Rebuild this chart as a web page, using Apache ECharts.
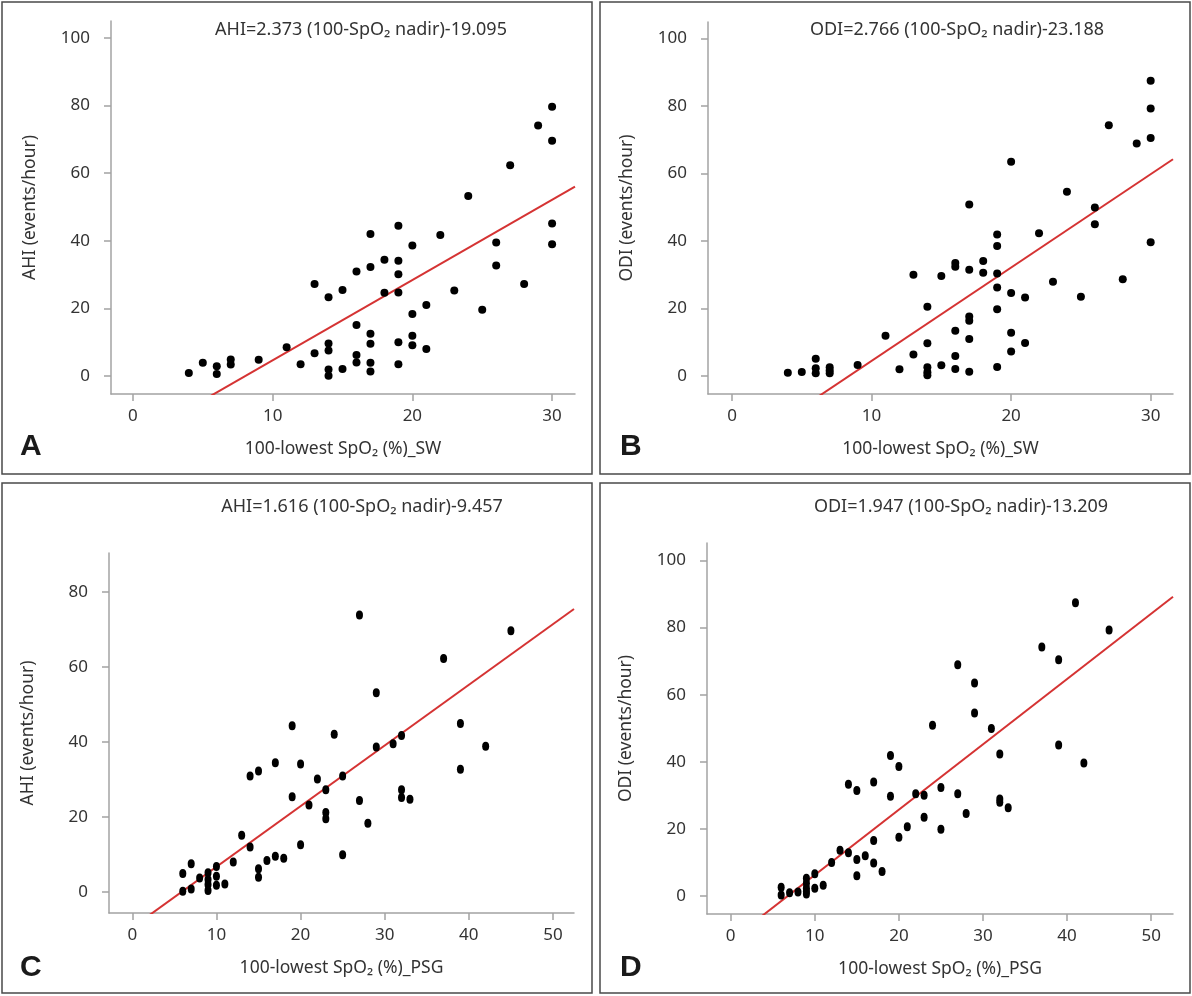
<!DOCTYPE html>
<html><head><meta charset="utf-8">
<script src="https://cdn.jsdelivr.net/npm/echarts@6/dist/echarts.min.js"></script>
<style>html,body{margin:0;padding:0;background:#fff}#c{width:1192px;height:996px}</style>
</head><body><div id="c"></div>
<script>
// ---- data ----
const swAhi = [[4,0.9],[5,3.9],[6,2.9],[6,0.6],[7,4.9],[7,3.4],[9,4.8],[11,8.5],[12,3.5],[13,27.2],[13,6.7],[14,23.3],[14,9.6],[14,7.5],[14,1.9],[14,0.1],[15,25.4],[15,2.1],[16,30.9],[16,15.1],[16,6.2],[16,4.0],[17,42.0],[17,32.2],[17,12.5],[17,9.5],[17,3.9],[17,1.3],[18,34.4],[18,24.6],[19,44.4],[19,34.1],[19,30.1],[19,24.7],[19,10.0],[19,3.5],[20,38.6],[20,18.3],[20,11.9],[20,9.1],[21,21.0],[21,8.0],[22,41.7],[23,25.3],[24,53.2],[25,19.6],[26,39.5],[26,32.7],[27,62.3],[28,27.2],[29,74.1],[30,79.6],[30,69.6],[30,45.1],[30,39.0]];
const swOdi = [[4,1.0],[5,1.2],[6,5.1],[6,2.3],[6,0.8],[7,2.6],[7,1.6],[7,0.8],[9,3.3],[11,11.9],[12,2.0],[13,30.0],[13,6.4],[14,20.5],[14,9.7],[14,2.6],[14,1.1],[14,0.2],[15,29.6],[15,3.2],[16,33.5],[16,32.4],[16,13.4],[16,5.9],[16,2.1],[17,50.8],[17,31.5],[17,17.6],[17,16.4],[17,11.0],[17,1.3],[18,34.1],[18,30.6],[19,41.9],[19,38.5],[19,30.4],[19,26.2],[19,19.8],[19,2.7],[20,63.5],[20,24.6],[20,12.8],[20,7.3],[21,23.3],[21,9.8],[22,42.3],[23,27.9],[24,54.6],[25,23.5],[26,49.9],[26,45.0],[27,74.3],[28,28.7],[29,68.9],[30,87.5],[30,79.3],[30,70.5],[30,39.6]];
const psgAhi = [[6,4.9],[6,0.2],[7,7.5],[7,0.8],[8,3.7],[9,5.1],[9,3.3],[9,2.0],[9,0.4],[10,6.8],[10,4.2],[10,1.8],[11,2.1],[12,8.0],[13,15.1],[14,12.0],[14,30.9],[15,32.2],[15,6.2],[15,3.9],[16,8.4],[17,34.4],[17,9.5],[18,9.0],[19,44.3],[19,25.4],[20,34.1],[20,12.6],[21,23.2],[22,30.1],[23,27.2],[23,21.2],[23,19.5],[24,42.0],[25,30.9],[25,9.9],[27,73.8],[27,24.4],[28,18.3],[29,53.1],[29,38.6],[31,39.5],[32,41.7],[32,27.2],[32,25.2],[33,24.7],[37,62.2],[39,44.9],[39,32.7],[42,38.8],[45,69.6],[32,91.5]];
const psgOdi = [[6,2.6],[6,0.3],[7,1.0],[8,1.2],[9,5.3],[9,3.8],[9,2.3],[9,1.3],[9,0.6],[10,6.6],[10,2.3],[11,3.2],[12,10.0],[13,13.6],[14,33.3],[14,12.9],[15,31.4],[15,10.9],[15,6.0],[16,12.0],[17,34.0],[17,16.5],[17,9.8],[18,7.3],[19,41.9],[19,29.7],[20,38.6],[20,17.5],[21,20.6],[22,30.5],[23,30.0],[23,23.5],[24,50.9],[25,32.3],[25,19.9],[27,68.9],[27,30.5],[28,24.6],[29,63.5],[29,54.5],[31,49.9],[32,42.3],[32,28.9],[32,27.9],[33,26.3],[37,74.2],[39,70.4],[39,45.0],[41,87.4],[42,39.6],[45,79.3]];
const slopes = [2.373, 2.766, 1.616, 1.947];
const intercepts = [-19.095, -23.188, -9.457, -13.209];
const equationTitles = ['AHI=2.373 (100-SpO₂ nadir)-19.095','ODI=2.766 (100-SpO₂ nadir)-23.188','AHI=1.616 (100-SpO₂ nadir)-9.457','ODI=1.947 (100-SpO₂ nadir)-13.209'];
const yAxisNames = ['AHI (events/hour)','ODI (events/hour)','AHI (events/hour)','ODI (events/hour)'];
const xAxisNames = ['100-lowest SpO₂ (%)_SW','100-lowest SpO₂ (%)_SW','100-lowest SpO₂ (%)_PSG','100-lowest SpO₂ (%)_PSG'];
const panelLetters = ['A','B','C','D'];
const xTicksSW = [0,10,20,30];
const xTicksPSG = [0,10,20,30,40,50];
const yTicks100 = [0,20,40,60,80,100];
const yTicks80 = [0,20,40,60,80];

// ---- layout ----
const FONT = '"Noto Sans", "DejaVu Sans", sans-serif';
const datasets = [swAhi, swOdi, psgAhi, psgOdi];
const xTicks = [xTicksSW, xTicksSW, xTicksPSG, xTicksPSG];
const yTicks = [yTicks100, yTicks100, yTicks80, yTicks100];
const grids = [
  {left:111, top:21, width:464, height:373},
  {left:708, top:22, width:465, height:372},
  {left:109, top:553, width:465, height:360},
  {left:707, top:543, width:466, height:371}
];
const xExt = [[-1.57,31.64],[-1.72,31.6],[-2.77,52.5],[-2.82,52.6]];
const yExt = [[-5.33,105],[-5.33,104.9],[-5.6,90.3],[-5.37,105.2]];
const boxes = [[2,2,590,472],[600,2,590,472],[2,483,590,510],[600,483,590,510]];
const titlePos = [[361,30],[957,30],[362,507],[961,507]];
const letterPos = [[20,447],[620,447],[20,968],[620,968]];
const symSizes = [[8,8],[8,8],[7,9],[7,9]];

const axisLineStyle = {color:'#a3a3a3', width:1.5};
const xAxis = [], yAxis = [], series = [], graphic = [];
for (let i = 0; i < 4; i++) {
  xAxis.push({
    type:'value', gridIndex:i, min:xExt[i][0], max:xExt[i][1],
    splitLine:{show:false},
    axisLine:{show:true, onZero:false, lineStyle:axisLineStyle},
    axisTick:{show:true, length:7, lineStyle:axisLineStyle, customValues:xTicks[i]},
    axisLabel:{color:'#333', fontSize:17, fontFamily:FONT, margin:14, customValues:xTicks[i]},
    name:xAxisNames[i], nameLocation:'middle', nameGap:46,
    nameTextStyle:{color:'#333', fontSize:17.5, fontFamily:FONT}
  });
  yAxis.push({
    type:'value', gridIndex:i, min:yExt[i][0], max:yExt[i][1],
    splitLine:{show:false},
    axisLine:{show:true, onZero:false, lineStyle:axisLineStyle},
    axisTick:{show:true, length:7, lineStyle:axisLineStyle, customValues:yTicks[i]},
    axisLabel:{color:'#333', fontSize:17, fontFamily:FONT, margin:21, customValues:yTicks[i]},
    name:yAxisNames[i], nameLocation:'middle', nameGap:72, nameRotate:90,
    nameTextStyle:{color:'#333', fontSize:17.5, fontFamily:FONT}
  });
  series.push({
    type:'scatter', xAxisIndex:i, yAxisIndex:i, data:datasets[i],
    symbol:'circle', symbolSize:symSizes[i], clip:true,
    itemStyle:{color:'#000', opacity:1}, silent:true, z:3
  });
  const x0 = xExt[i][0], x1 = xExt[i][1];
  series.push({
    type:'line', xAxisIndex:i, yAxisIndex:i, clip:true, symbol:'none', silent:true,
    data:[[x0, slopes[i]*x0 + intercepts[i]],[x1, slopes[i]*x1 + intercepts[i]]],
    lineStyle:{color:'#d53333', width:2}, z:2
  });
  graphic.push({type:'rect', shape:{x:boxes[i][0], y:boxes[i][1], width:boxes[i][2], height:boxes[i][3]},
    style:{fill:'none', stroke:'#4a4a4a', lineWidth:1.5}, silent:true});
  graphic.push({type:'text', x:titlePos[i][0], y:titlePos[i][1],
    style:{text:equationTitles[i], fill:'#333', font:'18px ' + FONT, align:'center', verticalAlign:'middle', textAlign:'center', textVerticalAlign:'middle'}, silent:true});
  graphic.push({type:'text', x:letterPos[i][0], y:letterPos[i][1],
    style:{text:panelLetters[i], fill:'#1a1a1a', font:'bold 30px "Liberation Sans", Arial, sans-serif', align:'left', verticalAlign:'middle', textAlign:'left', textVerticalAlign:'middle'}, silent:true});
}

const chart = echarts.init(document.getElementById('c'), null, {renderer:'canvas'});
chart.setOption({
  animation:false, backgroundColor:'#fff',
  grid:grids, xAxis, yAxis, series, graphic
});
</script>
</body></html>
